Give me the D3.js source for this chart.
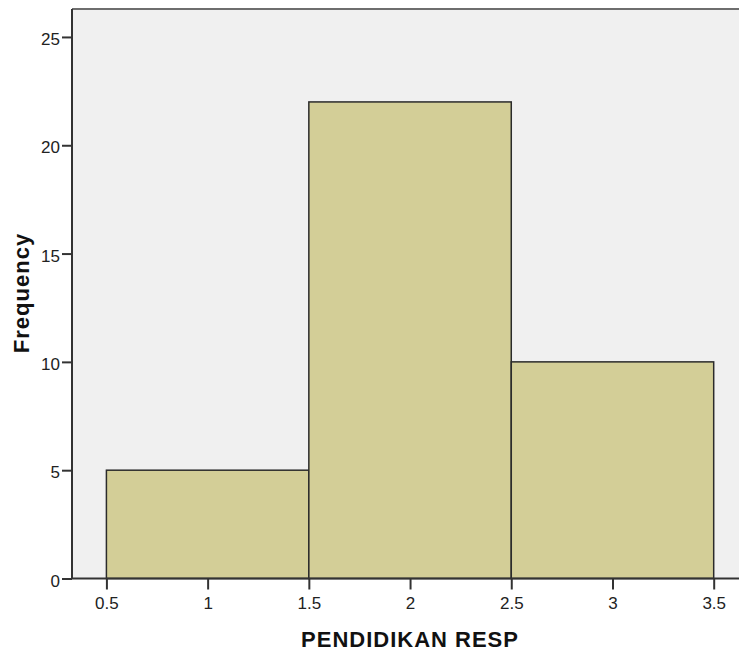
<!DOCTYPE html>
<html><head><meta charset="utf-8">
<script src="https://cdn.jsdelivr.net/npm/d3@7"></script>
<style>body{margin:0;background:#fff;}svg{display:block;font-family:Arial,"Liberation Sans",sans-serif;}</style>
</head><body>
<svg id="chart" width="739" height="655"></svg>
<script>
const binStarts = [0.5, 1.5, 2.5];
const binEnds = [1.5, 2.5, 3.5];
const frequencies = [5, 22, 10];
const xTicks = [0.5, 1, 1.5, 2, 2.5, 3, 3.5];
const yTicks = [0, 5, 10, 15, 20, 25];
const xTitle = "PENDIDIKAN RESP";
const yTitle = "Frequency";

const svg = d3.select("#chart");
const pL = 72, pT = 9, pR = 739, pB = 578.5;
const x = d3.scaleLinear().domain([0.33, 3.625]).range([pL, pR]);
const y = d3.scaleLinear().domain([0, 26.29]).range([pB, pT]);

svg.append("rect").attr("x", pL).attr("y", pT).attr("width", pR-pL).attr("height", pB-pT).attr("fill", "#f0f0f0");
svg.append("line").attr("x1", pL).attr("x2", pR).attr("y1", pT).attr("y2", pT).attr("stroke", "#6e6e6e").attr("stroke-width", 2);

svg.selectAll("rect.bar").data(frequencies).enter().append("rect").attr("class","bar")
  .attr("x", (d,i)=>x(binStarts[i]))
  .attr("width", (d,i)=>x(binEnds[i])-x(binStarts[i]))
  .attr("y", d=>y(d))
  .attr("height", d=>y(0)-y(d))
  .attr("fill", "#d3ce97").attr("stroke", "#2b2b2b").attr("stroke-width", 1.5);

const xAxis = d3.axisBottom(x).tickValues(xTicks).tickSize(11).tickPadding(7).tickFormat(d3.format("~g"));
const gx = svg.append("g").attr("transform", `translate(0,${pB})`).call(xAxis);
const yAxis = d3.axisLeft(y).tickValues(yTicks).tickSize(10).tickPadding(2);
const gy = svg.append("g").attr("transform", `translate(${pL},0)`).call(yAxis);
[gx, gy].forEach(g => {
  g.select(".domain").remove();
  g.selectAll(".tick line").attr("stroke", "#333").attr("stroke-width", 2);
  g.selectAll(".tick text").attr("fill", "#222").style("font-size", "17px").style("font-family", "Arial, 'Liberation Sans', sans-serif");
});
gy.selectAll(".tick text").attr("dy", "0.45em");
svg.append("line").attr("x1", pL).attr("x2", pL).attr("y1", pT).attr("y2", pB).attr("stroke", "#333").attr("stroke-width", 2);
svg.append("line").attr("x1", pL).attr("x2", pR).attr("y1", pB).attr("y2", pB).attr("stroke", "#333").attr("stroke-width", 2);

svg.append("text").attr("x", 410).attr("y", 647).attr("text-anchor", "middle")
  .style("font-size", "22px").style("font-weight", "bold").style("letter-spacing", "1px").attr("fill", "#111").text(xTitle);
svg.append("text").attr("transform", "translate(29,293) rotate(-90)").attr("text-anchor", "middle")
  .style("font-size", "22px").style("font-weight", "bold").style("letter-spacing", "1px").attr("fill", "#111").text(yTitle);
</script>
</body></html>
